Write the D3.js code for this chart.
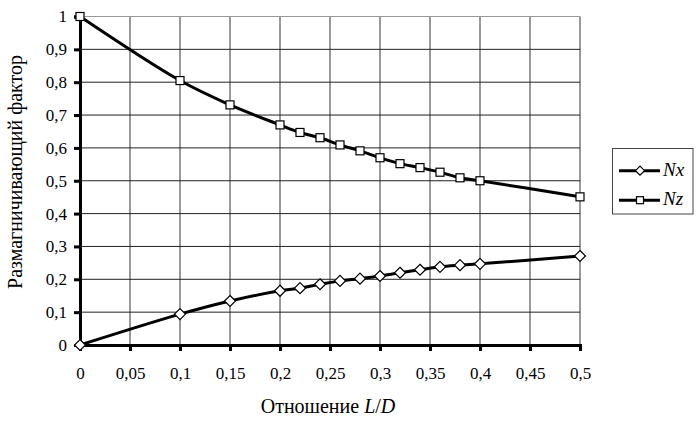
<!DOCTYPE html>
<html>
<head>
<meta charset="utf-8">
<script src="https://d3js.org/d3.v7.min.js"></script>
</head>
<body style="margin:0; background:#fff">
<svg width="698" height="421"></svg>
<script>
// L/D ratio (x) and demagnetising factors
const ratio = [0, 0.1, 0.15, 0.2, 0.22, 0.24, 0.26, 0.28, 0.3, 0.32, 0.34, 0.36, 0.38, 0.4, 0.5];
const nx = [0, 0.094, 0.134, 0.165, 0.173, 0.185, 0.195, 0.202, 0.21, 0.22, 0.229, 0.238, 0.243, 0.247, 0.271];
const nz = [1, 0.805, 0.731, 0.67, 0.647, 0.631, 0.609, 0.591, 0.57, 0.552, 0.54, 0.526, 0.509, 0.5, 0.451];
const xTicks = [0, 0.05, 0.1, 0.15, 0.2, 0.25, 0.3, 0.35, 0.4, 0.45, 0.5];
const yTicks = [0, 0.1, 0.2, 0.3, 0.4, 0.5, 0.6, 0.7, 0.8, 0.9, 1];
const seriesNames = ["Nx", "Nz"];

const FONT = "'Liberation Serif', serif";
const svg = d3.select("svg");
const x = d3.scaleLinear().domain([0, 0.5]).range([80, 580]);
const y = d3.scaleLinear().domain([0, 1]).range([345, 16.5]);
const fmt = d => String(d).replace(".", ",");

// grid
svg.append("g").selectAll("line").data(xTicks.slice(1)).join("line")
  .attr("x1", d => x(d)).attr("x2", d => x(d))
  .attr("y1", y(1)).attr("y2", y(0))
  .attr("stroke", "#555").attr("stroke-width", 1.2);
svg.append("g").selectAll("line").data(yTicks.slice(1)).join("line")
  .attr("x1", x(0)).attr("x2", x(0.5))
  .attr("y1", d => y(d)).attr("y2", d => y(d))
  .attr("stroke", "#222").attr("stroke-width", 1);
svg.append("line").attr("x1", x(0)).attr("x2", x(0.5)).attr("y1", y(1)).attr("y2", y(1))
  .attr("stroke", "#999");

// axes
const xAxis = svg.append("g").attr("transform", `translate(0,${y(0)})`)
  .call(d3.axisBottom(x).tickValues(xTicks).tickFormat(fmt).tickSize(6).tickPadding(16));
const yAxis = svg.append("g").attr("transform", `translate(${x(0)},0)`)
  .call(d3.axisLeft(y).tickValues(yTicks).tickFormat(fmt).tickSize(6).tickPadding(7));
[xAxis, yAxis].forEach(a => {
  a.attr("font-family", FONT).attr("font-size", 17);
  a.select(".domain").attr("stroke", "#000").attr("stroke-width", 3);
  a.selectAll(".tick line").attr("stroke", "#000").attr("stroke-width", 3);
  a.selectAll(".tick text").attr("fill", "#000").style("font-family", FONT).style("font-size", "17px");
});

// lines
const line = d3.line().x(d => x(d[0])).y(d => y(d[1])).curve(d3.curveCatmullRom);
const dataX = ratio.map((r, i) => [r, nx[i]]);
const dataZ = ratio.map((r, i) => [r, nz[i]]);
[dataX, dataZ].forEach(ds => {
  svg.append("path").datum(ds).attr("d", line)
    .attr("fill", "none").attr("stroke", "#000").attr("stroke-width", 3);
});

svg.append("g").selectAll("path").data(dataX).join("path")
  .attr("transform", d => `translate(${x(d[0])},${y(d[1])})`)
  .attr("d", "M0,-5.5L5.5,0L0,5.5L-5.5,0Z")
  .attr("fill", "#fff").attr("stroke", "#000").attr("stroke-width", 1.2);
svg.append("g").selectAll("rect").data(dataZ).join("rect")
  .attr("x", d => x(d[0]) - 4).attr("y", d => y(d[1]) - 4)
  .attr("width", 8).attr("height", 8)
  .attr("fill", "#fff").attr("stroke", "#000").attr("stroke-width", 1.2);

// axis titles
svg.append("text")
  .attr("transform", "translate(22,172) rotate(-90)")
  .attr("text-anchor", "middle").style("font-family", FONT).style("font-size", "20px")
  .text("Размагничивающий фактор");
const xt = svg.append("text").attr("x", 328).attr("y", 413)
  .attr("text-anchor", "middle").style("font-family", FONT).style("font-size", "20px");
xt.append("tspan").text("Отношение ");
xt.append("tspan").style("font-style", "italic").text("L");
xt.append("tspan").text("/");
xt.append("tspan").style("font-style", "italic").text("D");

// legend
const lg = svg.append("g");
lg.append("rect").attr("x", 612.5).attr("y", 148.5).attr("width", 80.5).attr("height", 65.5)
  .attr("fill", "#fff").attr("stroke", "#444");
seriesNames.forEach((name, i) => {
  const cy = 170.7 + i * 29.5;
  lg.append("line").attr("x1", 619).attr("x2", 660).attr("y1", cy).attr("y2", cy)
    .attr("stroke", "#000").attr("stroke-width", 3);
  if (i === 0) {
    lg.append("path").attr("transform", `translate(640,${cy})`).attr("d", "M0,-4.5L4.5,0L0,4.5L-4.5,0Z")
      .attr("fill", "#fff").attr("stroke", "#000").attr("stroke-width", 1.2);
  } else {
    lg.append("rect").attr("x", 636.5).attr("y", cy - 3.5).attr("width", 7).attr("height", 7)
      .attr("fill", "#fff").attr("stroke", "#000").attr("stroke-width", 1.2);
  }
  lg.append("text").attr("x", 663).attr("y", cy + 5)
    .style("font-family", FONT).style("font-size", "19px")
    .style("font-style", "italic").text(name);
});
</script>
</body>
</html>
